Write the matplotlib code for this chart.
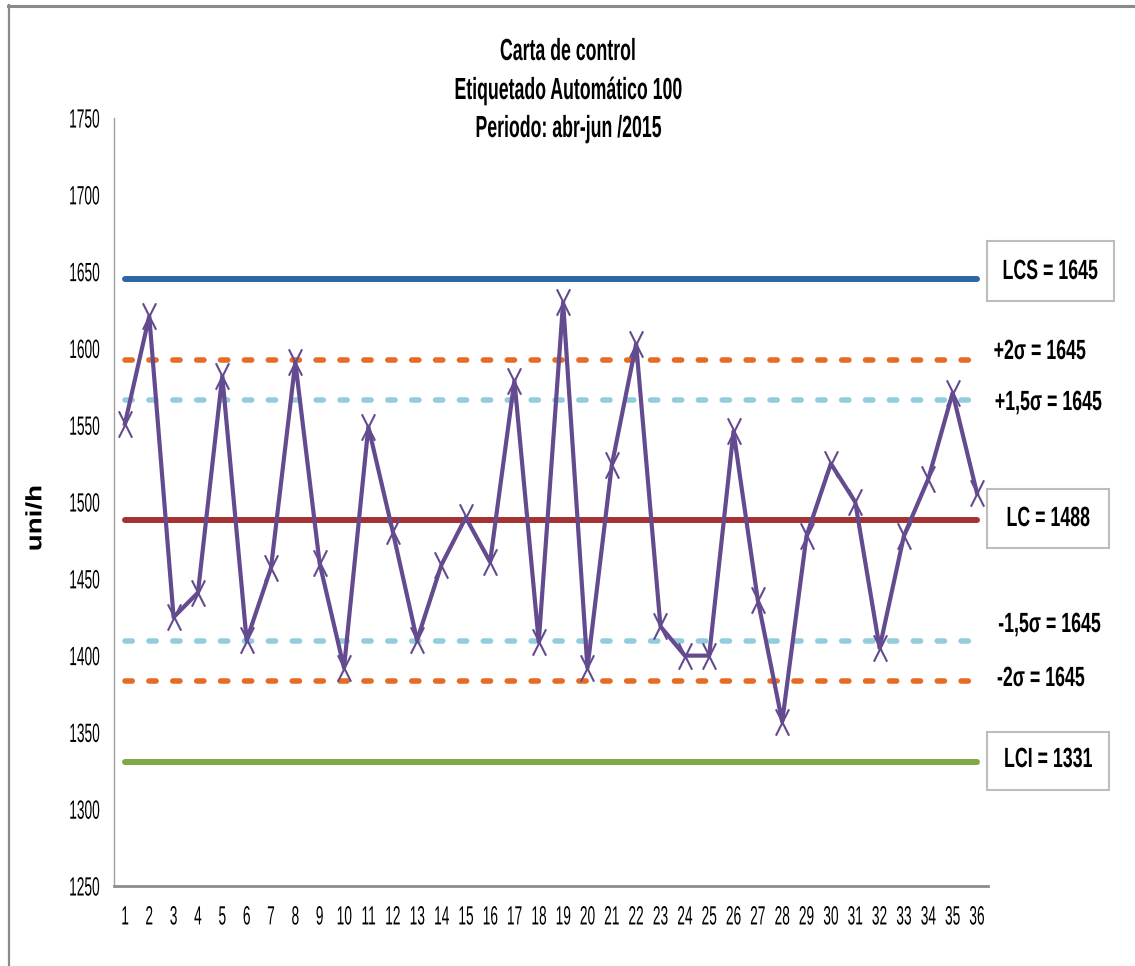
import matplotlib
matplotlib.use("Agg")
import matplotlib.pyplot as plt
from matplotlib.lines import Line2D
from matplotlib.patches import Rectangle
from matplotlib.path import Path
from matplotlib.patheffects import AbstractPathEffect
from matplotlib.transforms import Affine2D

plt.rcParams["font.family"] = ["Liberation Sans", "DejaVu Sans"]

# Datos de la carta de control (unidades por hora)
muestras = list(range(1, 37))
produccion = [1551, 1621, 1425, 1441, 1582, 1410, 1457, 1591, 1460, 1392,
              1549, 1481, 1410, 1459, 1490, 1461, 1579, 1409, 1630, 1392,
              1524, 1603, 1419, 1400, 1400, 1546, 1436, 1357, 1478, 1525,
              1500, 1405, 1478, 1515, 1571, 1506]

lc = 1488
lcs = 1645
lci = 1331
sigma = (lcs - lc) / 3
mas_2s = lc + 2 * sigma
mas_15s = lc + 1.5 * sigma
menos_15s = lc - 1.5 * sigma
menos_2s = lc - 2 * sigma


class Estrecho(AbstractPathEffect):
    """Comprime el texto en horizontal (letra estrecha)."""

    def __init__(self, sx, ancla="center"):
        super().__init__()
        self.sx = sx
        self.ancla = ancla

    def draw_path(self, renderer, gc, tpath, affine, rgbFace=None):
        ext = tpath.get_extents(affine)
        if self.ancla == "right":
            x0 = ext.x1
        elif self.ancla == "left":
            x0 = ext.x0
        else:
            x0 = 0.5 * (ext.x0 + ext.x1)
        t = affine + Affine2D().translate(-x0, 0).scale(self.sx, 1).translate(x0, 0)
        renderer.draw_path(gc, tpath, t, rgbFace)


# marcador en forma de aspa alta
aspa = Path([(-0.5, -1), (0.5, 1), (-0.5, 1), (0.5, -1)],
            [Path.MOVETO, Path.LINETO, Path.MOVETO, Path.LINETO])

fig = plt.figure(figsize=(11.35, 9.66), dpi=100)
ax = fig.add_axes([0.1004, 0.0828, 0.7700, 0.7950])

n = len(muestras)
ax.plot(muestras, [lcs] * n, color="#2E66A3", lw=4.3, solid_capstyle="round", zorder=2)
ax.plot(muestras, [lc] * n, color="#A33333", lw=4.3, solid_capstyle="round", zorder=2)
ax.plot(muestras, [lci] * n, color="#80A845", lw=4.3, solid_capstyle="round", zorder=2)
for val, col in [(mas_2s, "#E66C26"), (menos_2s, "#E66C26"),
                 (mas_15s, "#93CDDD"), (menos_15s, "#93CDDD")]:
    ax.plot(muestras, [val] * n, color=col, lw=4.0, linestyle=(0, (1.3, 3.0)),
            dash_capstyle="round", zorder=2)

ax.plot(muestras, produccion, color="#644A8E", lw=3.0, marker=aspa,
        markersize=19, markeredgewidth=1.5, zorder=3)

ax.set_xlim(0.55, 36.45)
ax.set_ylim(1250, 1750)
ax.set_yticks(range(1250, 1751, 50))
ax.set_xticks(muestras)
ax.tick_params(axis="y", length=0, labelsize=19, pad=10)
ax.tick_params(axis="x", length=0, labelsize=19, pad=14)
for s in ["top", "right"]:
    ax.spines[s].set_visible(False)
ax.spines["left"].set_color("#A0A0A0")
ax.spines["left"].set_linewidth(1.0)
ax.spines["bottom"].set_color("#8C8C8C")
ax.spines["bottom"].set_linewidth(2.0)

ax.set_ylabel("uni/h", fontsize=20, fontweight="bold")
ax.yaxis.set_label_coords(-0.074, 0.479)
ax.yaxis.label.set_path_effects([Estrecho(0.8)])

for t in ax.get_xticklabels():
    t.set_path_effects([Estrecho(0.52, "center")])
for t in ax.get_yticklabels():
    t.set_path_effects([Estrecho(0.52, "right")])

# Titulo
titulo = ["Carta de control", "Etiquetado Automático 100", "Periodo: abr-jun /2015"]
for linea, ypx in zip(titulo, [52, 91, 129]):
    fig.text(0.5005, 1 - ypx / 966, linea, ha="center", va="center", fontsize=22,
             fontweight="bold", path_effects=[Estrecho(0.58)])

# Cajas de los limites
for x0, y0, x1, y1 in [(987, 241, 1114, 301), (987, 489, 1109, 548), (987, 732, 1109, 790)]:
    fig.add_artist(Rectangle((x0 / 1135, 1 - y1 / 966), (x1 - x0) / 1135, (y1 - y0) / 966,
                             transform=fig.transFigure, fc="white", ec="#BDBDBD", lw=1.5))

etiquetas = [("LCS = 1645", 1050, 272, "center"), ("LC = 1488", 1048, 519, "center"),
             ("LCI = 1331", 1048, 760, "center"),
             ("+2σ = 1645", 1086, 352, "right"), ("+1,5σ = 1645", 1102, 403, "right"),
             ("-1,5σ = 1645", 1101, 625, "right"), ("-2σ = 1645", 1085, 679, "right")]
for txt, xp, yp, al in etiquetas:
    fig.text(xp / 1135, 1 - yp / 966, txt, ha=al, va="center", fontsize=20,
             fontweight="bold", path_effects=[Estrecho(0.64, al)])

# Marco del grafico
fig.add_artist(Line2D([0.007, 1], [0.9935, 0.9935], color="#8A8A8A", lw=2.2, transform=fig.transFigure))
fig.add_artist(Line2D([0.0075, 0.0075], [0, 0.9945], color="#8A8A8A", lw=1.6, transform=fig.transFigure))

fig.savefig("out.png", dpi=100, facecolor="white")
